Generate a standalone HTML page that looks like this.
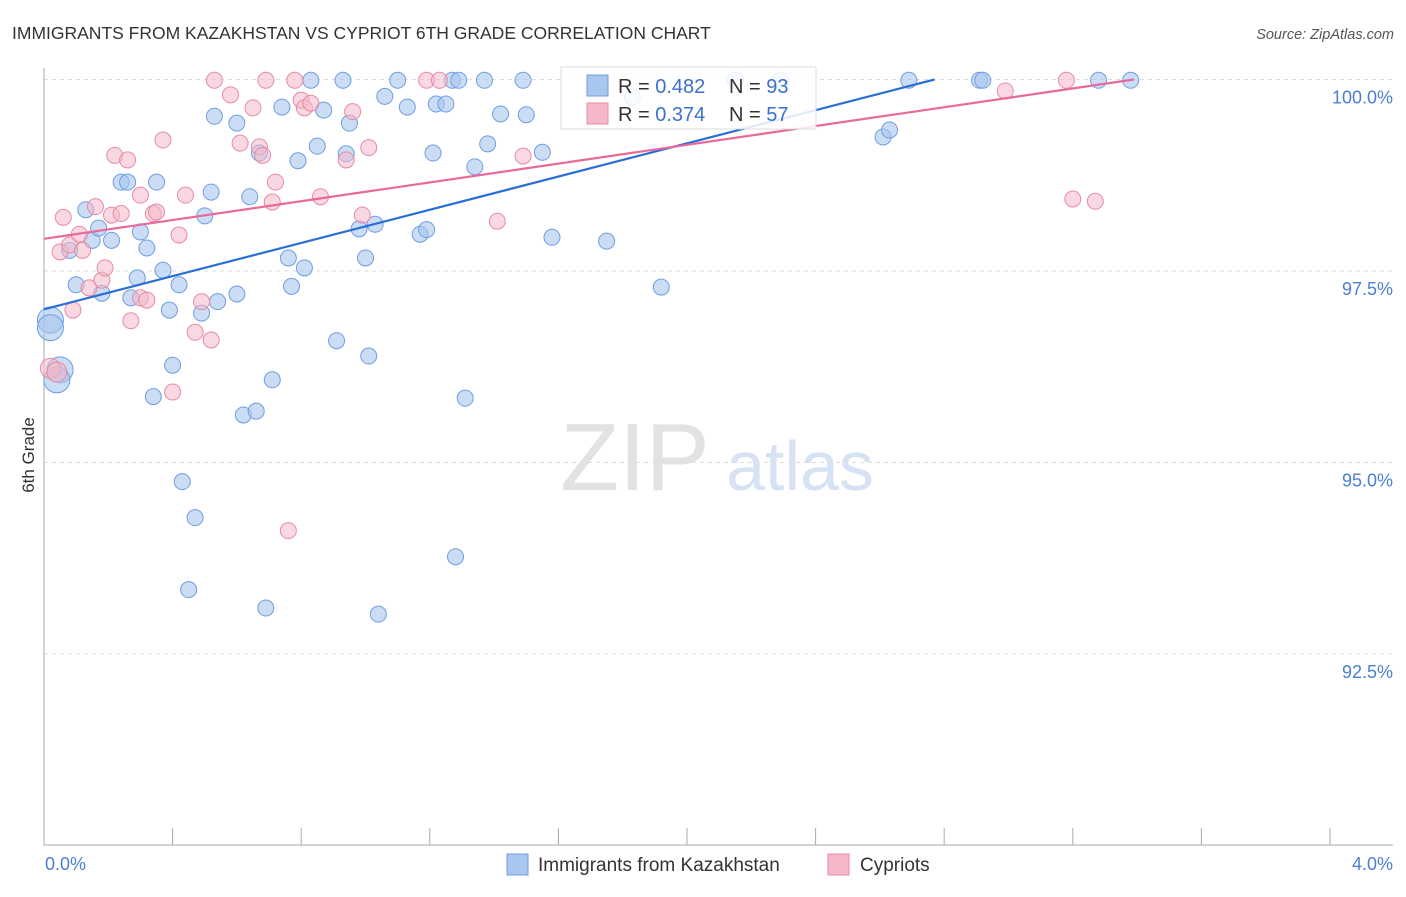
<!DOCTYPE html>
<html><head><meta charset="utf-8"><style>
body{margin:0;background:#fff;font-family:"Liberation Sans",sans-serif;}
svg text{font-family:"Liberation Sans",sans-serif;}
</style></head><body>
<svg id="chart" width="1406" height="892" viewBox="0 0 1406 892">
<text x="12" y="39" font-size="17.5" fill="#333">IMMIGRANTS FROM KAZAKHSTAN VS CYPRIOT 6TH GRADE CORRELATION CHART</text>
<text x="1394" y="39" font-size="14.5" fill="#555" font-style="italic" text-anchor="end">Source: ZipAtlas.com</text>
<text transform="translate(34,455) rotate(-90)" font-size="17" fill="#333" text-anchor="middle">6th Grade</text>
<g><text x="635" y="490" font-size="96" fill="#e2e2e2" font-family="Liberation Serif,serif" text-anchor="middle">ZIP</text><text x="800" y="490" font-size="70" fill="#d6e3f4" text-anchor="middle">atlas</text></g>
<g id="grid"></g><g id="axes"></g><g id="pts"></g><g id="lines"></g>
<g>
<rect x="561" y="67" width="255" height="62" fill="#fff" fill-opacity="0.85" stroke="#ddd"/>
<rect x="587" y="75" width="21" height="21" fill="#a8c6ee" stroke="#6f9ee0"/>
<rect x="587" y="103" width="21" height="21" fill="#f4b8c8" stroke="#e88aa6"/>
<text x="618" y="93" font-size="20" fill="#333">R = <tspan fill="#3a70d0">0.482</tspan></text>
<text x="729" y="93" font-size="20" fill="#333">N = <tspan fill="#3a70d0">93</tspan></text>
<text x="618" y="121" font-size="20" fill="#333">R = <tspan fill="#3a70d0"> 0.374</tspan></text>
<text x="729" y="121" font-size="20" fill="#333">N = <tspan fill="#3a70d0">57</tspan></text>
</g>
<g>
<rect x="507" y="854" width="21" height="21" fill="#a8c6ee" stroke="#6f9ee0"/>
<text x="538" y="871" font-size="19" fill="#333">Immigrants from Kazakhstan</text>
<rect x="828" y="854" width="21" height="21" fill="#f4b8c8" stroke="#e88aa6"/>
<text x="860" y="871" font-size="19" fill="#333">Cypriots</text>
</g>
</svg>
<script>
const yTicks=[100,97.5,95,92.5];
const yTickLabels=["100.0%","97.5%","95.0%","92.5%"];
const xTickLabels=["0.0%","4.0%"];
const blueX=[0.02,0.02,0.05,0.04,0.08,0.10,0.13,0.15,0.17,0.18,0.21,0.24,0.26,0.27,0.29,0.30,0.32,0.34,0.35,0.37,0.39,0.40,0.42,0.43,0.45,0.47,0.49,0.50,0.52,0.53,0.54,0.60,0.60,0.62,0.64,0.66,0.67,0.69,0.71,0.74,0.76,0.77,0.79,0.81,0.83,0.85,0.87,0.91,0.93,0.94,0.95,0.98,1.00,1.01,1.03,1.04,1.06,1.10,1.13,1.17,1.19,1.21,1.22,1.25,1.27,1.28,1.29,1.31,1.34,1.37,1.38,1.42,1.49,1.50,1.55,1.58,1.75,1.83,1.92,2.15,2.29,2.61,2.63,2.69,2.91,2.92,3.28,3.38];
const blueY=[96.86,96.76,96.21,96.08,97.77,97.32,98.30,97.90,98.06,97.21,97.90,98.66,98.66,97.15,97.41,98.01,97.80,95.86,98.66,97.51,96.99,96.27,97.32,94.75,93.34,94.28,96.95,98.22,98.53,99.52,97.10,97.20,99.43,95.62,98.47,95.67,99.04,93.10,96.08,99.64,97.67,97.30,98.94,97.54,99.99,99.13,99.60,96.59,99.99,99.03,99.43,98.05,97.67,96.39,98.11,93.02,99.78,99.99,99.64,97.98,98.04,99.04,99.68,99.68,99.99,93.77,99.99,95.84,98.86,99.99,99.16,99.55,99.99,99.54,99.05,97.94,97.89,99.77,97.29,99.99,99.99,99.25,99.34,99.99,99.99,99.99,99.99,99.99];
const blueBig=[1,1,1,1];
const pinkX=[0.02,0.04,0.06,0.05,0.08,0.09,0.11,0.12,0.14,0.16,0.18,0.19,0.21,0.22,0.24,0.26,0.27,0.30,0.30,0.32,0.34,0.35,0.37,0.40,0.42,0.44,0.47,0.49,0.52,0.53,0.58,0.61,0.65,0.67,0.68,0.72,0.71,0.69,0.76,0.78,0.80,0.81,0.83,0.86,0.94,0.96,0.99,1.01,1.19,1.23,1.41,1.49,2.99,3.18,3.20,3.27];
const pinkY=[96.23,96.18,98.20,97.75,97.84,96.99,97.98,97.77,97.28,98.34,97.38,97.54,98.23,99.01,98.25,98.95,96.85,98.49,97.15,97.12,98.25,98.27,99.21,95.92,97.97,98.49,96.70,97.10,96.60,99.99,99.80,99.17,99.63,99.12,99.01,98.66,98.40,99.99,94.11,99.99,99.73,99.63,99.69,98.47,98.95,99.58,98.23,99.11,99.99,99.99,98.15,99.00,99.85,99.99,98.44,98.41];
const blueTrendX=[0,2.77], blueTrendY=[97.0,100.0];
const pinkTrendX=[0,3.39], pinkTrendY=[97.92,100.0];
const NS="http://www.w3.org/2000/svg";
const sx=v=>44+v*321.5, sy=v=>79.5+(100-v)*76.6;
function mk(t,a,p){const e=document.createElementNS(NS,t);for(const k in a)e.setAttribute(k,a[k]);p.appendChild(e);return e;}
const grid=document.getElementById('grid'),axes=document.getElementById('axes'),pts=document.getElementById('pts'),lines=document.getElementById('lines');
yTicks.forEach((v,i)=>{
 const l=mk('line',{x1:44,x2:1393,y1:sy(v),y2:sy(v),stroke:'#ddd','stroke-dasharray':'4,4'},grid);
 
 
 const t=mk('text',{x:1393,y:sy(v)+24,'font-size':18,fill:'#4a7fd4','text-anchor':'end'},axes);
 t.textContent=yTickLabels[i];
 
 
});
const ya=mk('line',{x1:44,x2:44,y1:68,y2:845,stroke:'#aaa'},axes);


const xa=mk('line',{x1:44,x2:1393,y1:845,y2:845,stroke:'#aaa'},axes);


for(let i=1;i<=10;i++){const tk=mk('line',{x1:sx(i*0.4),x2:sx(i*0.4),y1:828,y2:845,stroke:'#aaa'},axes);
 
 }
[[0,'start',45],[4,'end',1393]].forEach((d,i)=>{const t=mk('text',{x:d[2],y:870,'font-size':18,fill:'#4a7fd4','text-anchor':d[1]},axes);t.textContent=xTickLabels[i];
 
 });
blueX.forEach((x,i)=>{const c=mk('circle',{cx:sx(x),cy:sy(blueY[i]),r:blueBig[i]?13:8,fill:'#a8c6ee','fill-opacity':0.6,stroke:'#6f9ee0','stroke-width':1},pts);
 
 });
pinkX.forEach((x,i)=>{const c=mk('circle',{cx:sx(x),cy:sy(pinkY[i]),r:i<2?10:8,fill:'#f4b8c8','fill-opacity':0.55,stroke:'#e88aa6','stroke-width':1},pts);
 
 });
const bl=mk('line',{x1:sx(blueTrendX[0]),y1:sy(blueTrendY[0]),x2:sx(blueTrendX[1]),y2:sy(blueTrendY[1]),stroke:'#2a6fd6','stroke-width':2.2},lines);


const pl=mk('line',{x1:sx(pinkTrendX[0]),y1:sy(pinkTrendY[0]),x2:sx(pinkTrendX[1]),y2:sy(pinkTrendY[1]),stroke:'#e8699a','stroke-width':2.2},lines);


</script>
</body></html>
